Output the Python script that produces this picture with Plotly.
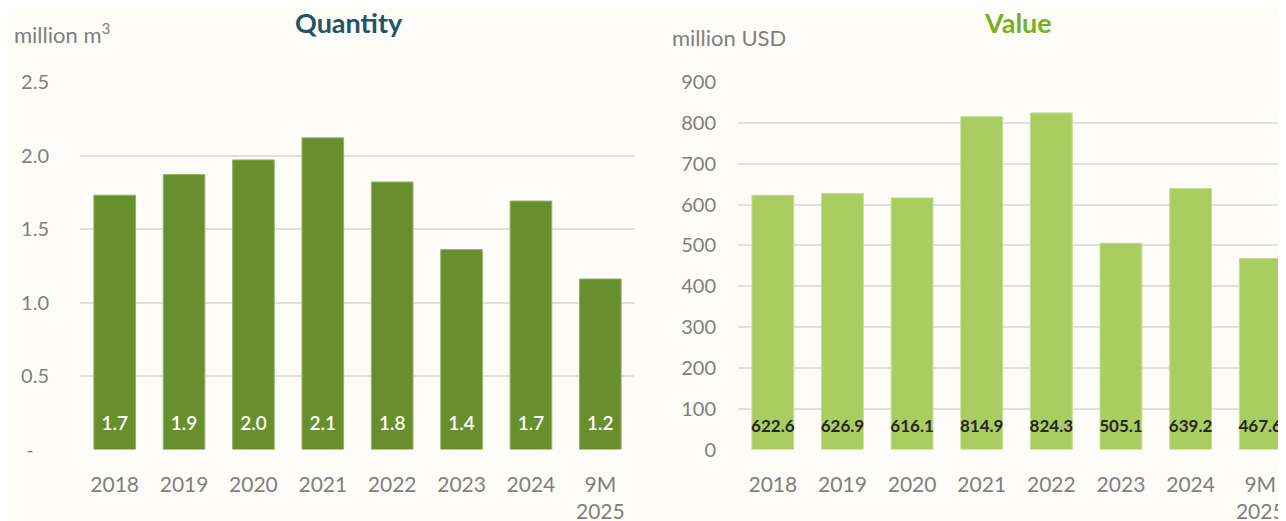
import plotly.graph_objects as go

categories = ["2018", "2019", "2020", "2021", "2022", "2023", "2024", "9M<br>2025"]
quantity = [1.73, 1.87, 1.97, 2.12, 1.82, 1.36, 1.69, 1.16]
value = [622.6, 626.9, 616.1, 814.9, 824.3, 505.1, 639.2, 467.6]
q_ticks = [0, 0.5, 1.0, 1.5, 2.0, 2.5]
q_ticktext = ["-\u00a0\u00a0\u00a0", "0.5", "1.0", "1.5", "2.0", "2.5"]
v_ticks = [0, 100, 200, 300, 400, 500, 600, 700, 800, 900]

# page body has an 8px margin, so the figure starts at (8, 8)
OFF = 8
W, H = 1286 - OFF, 521 - OFF
BG = "#fdfcf8"
FONT = "Lato"
GRAY = "#7f7f7f"
GRID = "#e0e0dc"


def px_x(p):
    return (p - OFF) / W


def px_y(p):
    return 1 - (p - OFF) / H


fig = go.Figure()
xs = list(range(len(categories)))

fig.add_trace(go.Bar(
    x=xs, y=quantity, xaxis="x", yaxis="y", width=0.6,
    marker=dict(color="#678f2e", line=dict(color="#93b463", width=1)),
    hoverinfo="skip", showlegend=False,
))
fig.add_trace(go.Scatter(
    x=xs, y=[0.167] * len(xs), xaxis="x", yaxis="y", mode="text",
    text=[f"{v:.1f}" for v in quantity],
    textfont=dict(family=FONT, size=19, color="white", weight=600),
    hoverinfo="skip", showlegend=False,
))

fig.add_trace(go.Bar(
    x=xs, y=value, xaxis="x2", yaxis="y2", width=0.6,
    marker=dict(color="#a9cd60", line=dict(color="#c4de8f", width=1)),
    hoverinfo="skip", showlegend=False,
))
fig.add_trace(go.Scatter(
    x=xs, y=[53] * len(xs), xaxis="x2", yaxis="y2", mode="text",
    text=[f"{v:.1f}" for v in value],
    textfont=dict(family=FONT, size=17, color="#262626", weight=700),
    hoverinfo="skip", showlegend=False,
))

ydom = [px_y(449.5), px_y(82)]

xcommon = dict(showline=False, zeroline=False, ticks="", automargin=False,
               tickfont=dict(family=FONT, size=21, color=GRAY), showgrid=False,
               ticklabelstandoff=20)
ycommon = dict(showline=False, zeroline=False, ticks="", automargin=False,
               tickfont=dict(family=FONT, size=20, color=GRAY),
               showgrid=True, gridcolor=GRID, gridwidth=2)

fig.update_layout(
    width=W, height=H, autosize=False,
    margin=dict(l=0, r=0, t=0, b=0, autoexpand=False),
    paper_bgcolor=BG, plot_bgcolor=BG,
    xaxis=dict(domain=[px_x(80), px_x(635)], range=[-0.5, 7.5],
               tickvals=xs, ticktext=categories, anchor="y", **xcommon),
    yaxis=dict(domain=ydom, range=[0, 2.5], tickvals=q_ticks, ticktext=q_ticktext,
               ticklabelstandoff=30, anchor="x", **ycommon),
    xaxis2=dict(domain=[px_x(738), 1], range=[-0.5, 7.37],
                tickvals=xs, ticktext=categories, anchor="y2", **xcommon),
    yaxis2=dict(domain=ydom, range=[0, 900], tickvals=v_ticks,
                ticklabelstandoff=21, anchor="x2", **ycommon),
    annotations=[
        dict(text="<b>Quantity</b>", x=px_x(349), y=px_y(22), xref="paper", yref="paper",
             xanchor="center", yanchor="middle", showarrow=False,
             font=dict(family=FONT, size=27, color="#235467")),
        dict(text="<b>Value</b>", x=px_x(1018), y=px_y(22), xref="paper", yref="paper",
             xanchor="center", yanchor="middle", showarrow=False,
             font=dict(family=FONT, size=27, color="#78b11e")),
        dict(text="million m<sup>3</sup>", x=px_x(12), y=px_y(33), xref="paper", yref="paper",
             xanchor="left", yanchor="middle", showarrow=False,
             font=dict(family=FONT, size=22, color=GRAY)),
        dict(text="million USD", x=px_x(670), y=px_y(37), xref="paper", yref="paper",
             xanchor="left", yanchor="middle", showarrow=False,
             font=dict(family=FONT, size=22, color=GRAY)),
    ],
)

fig.write_html("out.html")
